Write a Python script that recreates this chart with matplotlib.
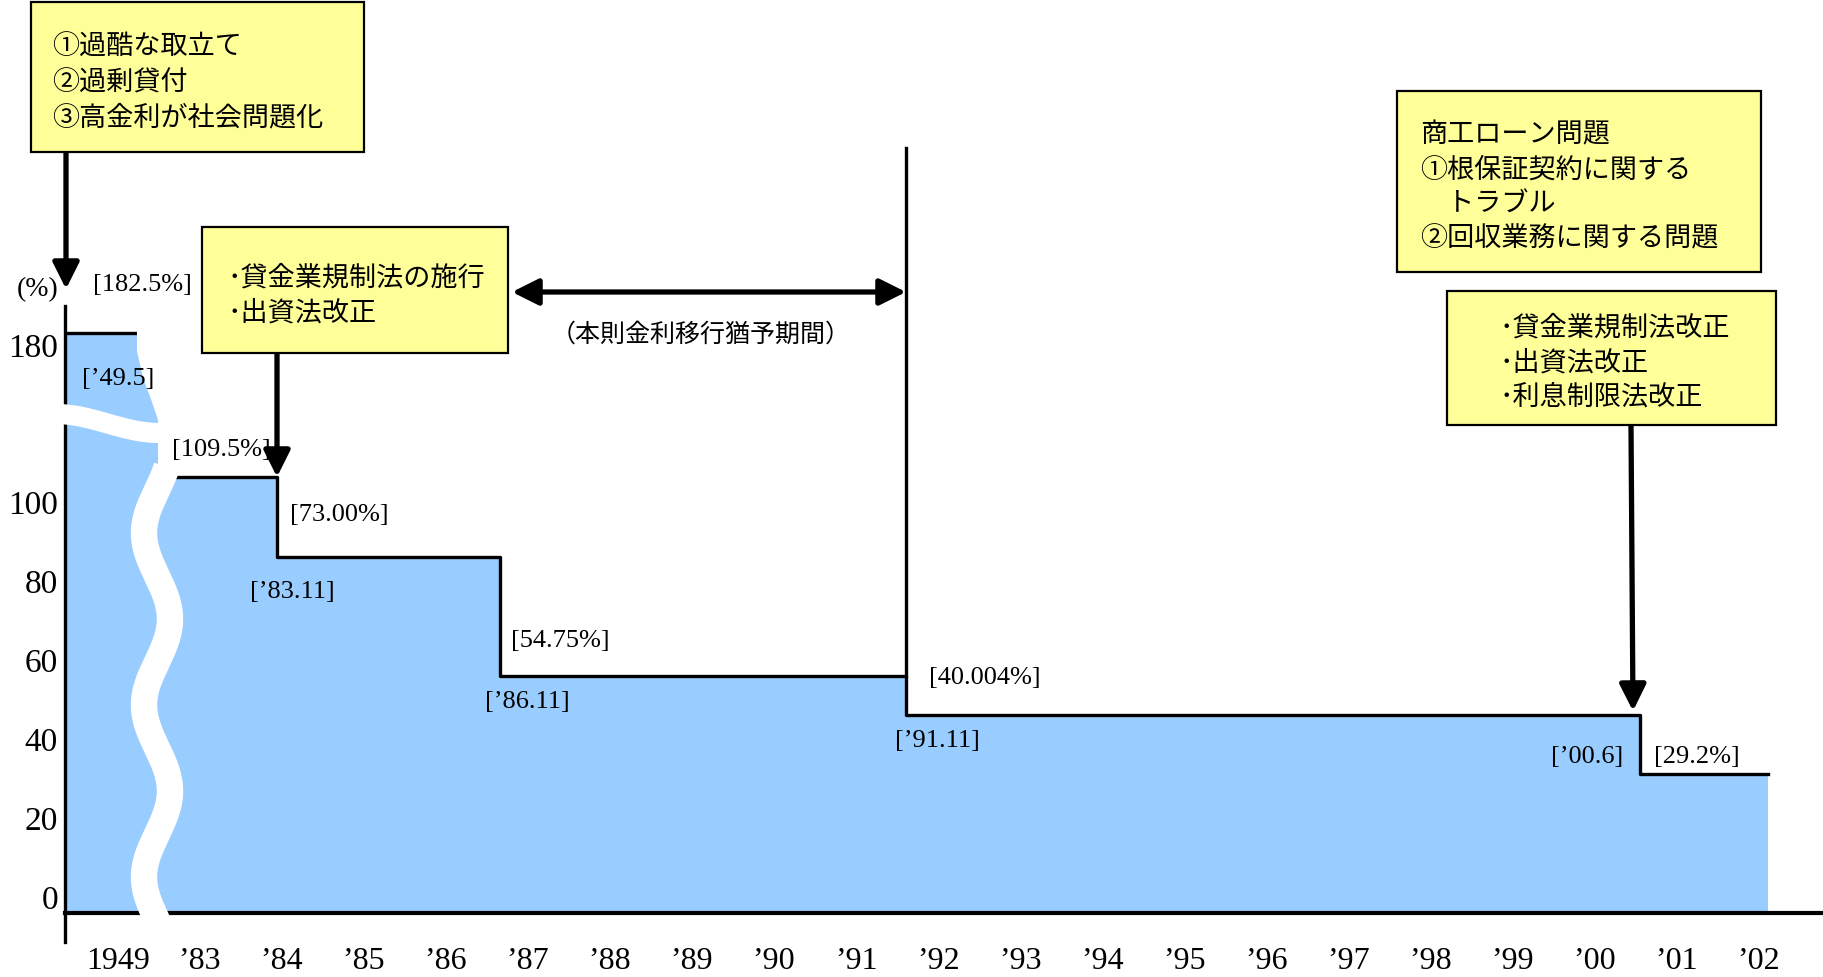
import matplotlib
matplotlib.use('Agg')
import matplotlib.pyplot as plt
import numpy as np
from matplotlib.patches import Rectangle, Polygon

W, H, DPI = 1823, 978, 100

# ---------------- data (as drawn in the diagram) ----------------
year_labels = ['1949', '’83', '’84', '’85', '’86', '’87', '’88', '’89', '’90', '’91',
               '’92', '’93', '’94', '’95', '’96', '’97', '’98', '’99', '’00', '’01', '’02']
y_tick_values = [0, 20, 40, 60, 80, 100, 139.8]
y_tick_labels = ['0', '20', '40', '60', '80', '100', '180']
# edges of each rate period on the year axis, and drawn height of each period
step_x = [-0.645, 0.489, 1.94, 4.66, 9.61, 18.56, 20.12]
step_levels = [142.6, 106.1, 85.9, 55.8, 45.9, 31.0]
rate_labels = ['[182.5%]', '[109.5%]', '[73.00%]', '[54.75%]', '[40.004%]', '[29.2%]']
date_labels = ['[’49.5]', '[’83.11]', '[’86.11]', '[’91.11]', '[’00.6]']

JP = ['Noto Sans CJK JP', 'DejaVu Sans']
SERIF = ['Liberation Serif', 'DejaVu Serif']
plt.rcParams['font.family'] = SERIF

FILL = '#99CCFF'
BOX = '#FFFF99'

fig = plt.figure(figsize=(W / DPI, H / DPI), dpi=DPI)
ax = fig.add_axes([0, 0, 1, 1])

# pixel (top-left origin) -> data helpers for decoration
X0, XS = 117.9, 82.02
Y0, YS = 897.5, 3.953
def px2x(px):
    return (px - X0) / XS
def py2v(py):
    return (Y0 - py) / YS
def fx(px):
    return px / W
def fy(py):
    return 1 - py / H

ax.set_xlim(px2x(0), px2x(W))
ax.set_ylim(py2v(H), py2v(0))
baseline = py2v(914)

# step fill
levels_ext = step_levels + [step_levels[-1]]
ax.fill_between(step_x, levels_ext, baseline, step='post', color=FILL, lw=0, zorder=1)

# step outline
LW = 2.4
ax.plot([step_x[0], px2x(137)], [step_levels[0], step_levels[0]], color='black', lw=LW,
        solid_capstyle='butt', zorder=2)
ax.step(step_x[1:], levels_ext[1:], where='post', color='black', lw=LW, zorder=2)
# vertical line at end of transition period
ax.plot([step_x[4], step_x[4]], [step_levels[3], py2v(149)], color='black', lw=LW, zorder=2)

# spines
for s in ['top', 'right']:
    ax.spines[s].set_visible(False)
ax.spines['left'].set_position(('data', step_x[0]))
ax.spines['left'].set_bounds(py2v(943), py2v(307))
ax.spines['left'].set_linewidth(2.4)
ax.spines['bottom'].set_position(('data', baseline))
ax.spines['bottom'].set_bounds(step_x[0], px2x(W))
ax.spines['bottom'].set_linewidth(3.0)

ax.set_xticks(range(len(year_labels)), year_labels)
ax.set_yticks(y_tick_values, y_tick_labels)
ax.tick_params(axis='x', length=0, pad=24, labelsize=23)
ax.tick_params(axis='y', length=0, pad=5, labelsize=24)

# --- axis break decoration (white wavy bands) ---
curve = [(137, 330), (137, 352), (143, 379), (152, 403), (158, 421), (175, 421), (175, 330)]
ax.add_patch(Polygon([(px2x(a), py2v(b)) for a, b in curve], closed=True,
                     fc='white', ec='none', zorder=5))
hx = np.linspace(40, 162, 80)
hy = 424.5 - 9.5 * np.cos(np.pi * np.clip(hx - 55, 0, 105) / 105)
ax.plot(px2x(hx), py2v(hy), color='white', lw=14.5, solid_capstyle='butt', zorder=5)
vy = np.linspace(468, 930, 200)
vx = 157 + 13 * np.cos(2 * np.pi * (vy - 620) / 172)
ax.plot(px2x(vx), py2v(vy), color='white', lw=19, solid_capstyle='butt', zorder=5)

# --- labels ---
def ftext(x, y, s, size=19, family=SERIF, ha='center', va='center'):
    fig.text(fx(x), fy(y), s, fontsize=size, family=family, ha=ha, va=va, zorder=6)

ftext(38, 290, '(%)', size=20)
rate_pos = [(142, 285), (221, 450), (339, 515), (560, 641), (985, 678), (1697, 757)]
for (x, y), s in zip(rate_pos, rate_labels):
    ftext(x, y, s)
date_pos = [(118, 379), (292, 592), (527, 702), (937, 741), (1587, 757)]
for (x, y), s in zip(date_pos, date_labels):
    ftext(x, y, s)

ftext(701, 335, '（本則金利移行猶予期間）', size=18, family=JP)

# --- boxes ---
def box(x0, y0, x1, y1, lines, tx, tys):
    r = Rectangle((fx(x0), fy(y1)), (x1 - x0) / W, (y1 - y0) / H, transform=fig.transFigure,
                  fc=BOX, ec='black', lw=1.6, zorder=4)
    fig.add_artist(r)
    for s, ty in zip(lines, tys):
        ftext(tx, ty, s, size=19.5, family=JP, ha='left')

box(31, 3, 364, 153, ['①過酷な取立て', '②過剰貸付', '③高金利が社会問題化'], 52, [47, 83, 118])
box(202, 228, 508, 354, ['･貸金業規制法の施行', '･出資法改正'], 227, [278, 313])
box(1397, 92, 1761, 273, ['商工ローン問題', '①根保証契約に関する', '　トラブル', '②回収業務に関する問題'],
    1420, [135, 170, 204, 239])
box(1447, 292, 1776, 426, ['･貸金業規制法改正', '･出資法改正', '･利息制限法改正'], 1500, [328, 363, 397])

# --- arrows ---
def arrow(x1, y1, x2, y2, style='-|>'):
    ax.annotate('', xy=(fx(x2), fy(y2)), xytext=(fx(x1), fy(y1)),
                xycoords='figure fraction', textcoords='figure fraction',
                arrowprops=dict(arrowstyle=style + ',head_length=0.8,head_width=0.4',
                                lw=3.8, color='black', shrinkA=0, shrinkB=0,
                                mutation_scale=20), zorder=7)

arrow(66, 153, 66, 290)
arrow(277, 354, 277, 478)
arrow(1631, 426, 1633, 712)
arrow(512, 293, 906, 293, style='<|-|>')

fig.savefig('out.png', dpi=DPI)
